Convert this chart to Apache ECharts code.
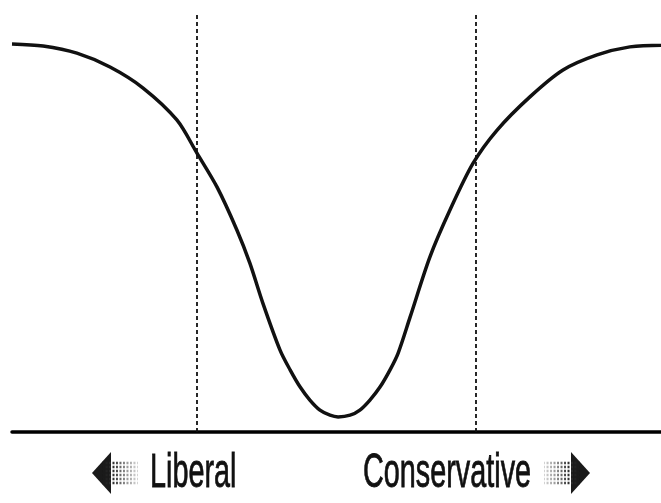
<!DOCTYPE html>
<html>
<head>
<meta charset="utf-8">
<script src="https://cdn.jsdelivr.net/npm/echarts@6/dist/echarts.min.js"></script>
<style>
  html, body { margin: 0; padding: 0; background: #fff; }
  #chart { width: 661px; height: 503px; }
</style>
</head>
<body>
<div id="chart"></div>
<script>
// ideology position (-100 liberal .. 100 conservative)
var posX = [-100, -90.4, -80, -69.8, -59.6, -49.2, -43, -36.8, -30.7, -26.7, -22.7, -17.4, -14.3, -11.2, -8.2, -5.1, -2, 0.5,
	4.2, 7.2, 10.3, 13.4, 16.5, 19, 22.7, 28.8, 35, 42.1, 49.5, 59.6, 69.8, 80.3, 90.4, 100];
// curve height
var curveY = [92.4, 91.9, 90.2, 86.9, 81.9, 74.3, 66.4, 58.3, 48.1, 40.2, 30.7, 19.5, 14.8, 10.7, 7.6, 5.2, 4, 3.6,
	4, 5.2, 7.6, 10.7, 14.8, 18.8, 27.4, 41.7, 52.9, 64, 71.9, 79.8, 86.2, 89.8, 91.7, 92.1];
// dashed cut-off lines
var guideX = [-43, 43];
var sideLabels = ['Liberal', 'Conservative'];

var curveData = [];
for (var i = 0; i < posX.length; i++) {
	curveData.push([posX[i], curveY[i]]);
}

var myChart = echarts.init(document.getElementById('chart'), null, { renderer: 'canvas' });

function fade(toRight) {
	var stops = [{
		offset: 0,
		color: '#111'
	}, {
		offset: 0.35,
		color: '#333'
	}, {
		offset: 1,
		color: 'rgba(150,150,150,0.3)'
	}];
	if (toRight) {
		return new echarts.graphic.LinearGradient(1, 0, 0, 0, stops);
	}
	return new echarts.graphic.LinearGradient(0, 0, 1, 0, stops);
}

// halftone style arrow: dark head, dotted fading shaft
function arrow(tip, dir) {
	var els = [];
	var cy = 473;
	var hx = tip + dir * 19;
	els.push({
		type: 'polygon',
		shape: {
			points: [[tip, cy], [hx, cy - 21], [hx, cy + 21]]
		},
		style: {
			fill: '#1a1a1a'
		}
	});
	for (var k = 0; k < 6; k++) {
		var yy = cy - 10 + k * 4;
		els.push({
			type: 'line',
			shape: {
				x1: tip + dir * 10,
				y1: yy,
				x2: tip + dir * 46,
				y2: yy
			},
			style: {
				stroke: fade(dir > 0 ? false : true),
				lineWidth: 2.6,
				lineDash: [2, 1.5]
			}
		});
	}
	return els;
}

myChart.setOption({
	animation: false,
	backgroundColor: '#fff',
	grid: {
		left: 12,
		right: 0,
		top: 12,
		bottom: 71
	},
	xAxis: {
		type: 'value',
		min: -100,
		max: 100,
		axisLine: {
			show: true,
			onZero: false,
			lineStyle: {
				color: '#000',
				width: 3.5
			}
		},
		axisTick: {
			show: false
		},
		axisLabel: {
			show: false
		},
		splitLine: {
			show: false
		}
	},
	yAxis: {
		type: 'value',
		min: 0,
		max: 100,
		show: false
	},
	series: [{
		type: 'line',
		data: curveData,
		smooth: 0.3,
		showSymbol: false,
		lineStyle: {
			color: '#111',
			width: 3.5
		},
		markLine: {
			silent: true,
			symbol: 'none',
			label: {
				show: false
			},
			lineStyle: {
				color: '#111',
				type: [4, 3],
				width: 1.8
			},
			data: guideX.map(function (v) {
				return { xAxis: v };
			})
		}
	}],
	graphic: [{
		type: 'text',
		x: 150,
		y: 474,
		scaleX: 0.6,
		style: {
			text: sideLabels[0],
			font: '48px "Liberation Sans", Arial, sans-serif',
			fill: '#111',
			stroke: '#111',
			lineWidth: 0.8,
			align: 'left',
			verticalAlign: 'middle'
		}
	}, {
		type: 'text',
		x: 363,
		y: 474,
		scaleX: 0.6,
		style: {
			text: sideLabels[1],
			font: '48px "Liberation Sans", Arial, sans-serif',
			fill: '#111',
			stroke: '#111',
			lineWidth: 0.8,
			align: 'left',
			verticalAlign: 'middle'
		}
	}].concat(arrow(92, 1), arrow(590, -1))
});
</script>
</body>
</html>
